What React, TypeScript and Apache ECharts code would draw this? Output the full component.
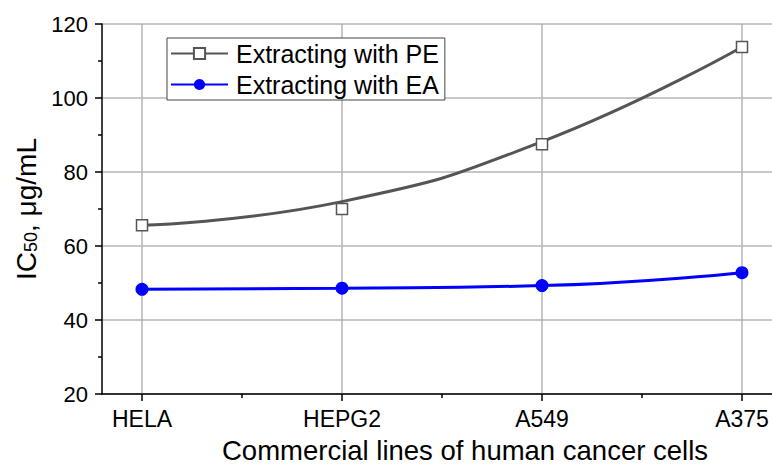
import React, { useEffect, useRef } from "react";
import * as echarts from "echarts";

const categories = ["HELA", "HEPG2", "A549", "A375"];
const pePoints = [65.6, 70.0, 87.5, 113.8];
const peCurve = [65.6, 72.0, 88.2, 113.8];
const eaPoints = [48.3, 48.6, 49.3, 52.8];
const yTicks = [20, 40, 60, 80, 100, 120];

const FONT = "Liberation Sans, Arial, sans-serif";

export default function App() {
  const ref = useRef<HTMLDivElement>(null);
  useEffect(() => {
    if (!ref.current) return;
    const chart = echarts.init(ref.current, null, { renderer: "svg" });
    const pos = categories.map((_, i) => i + 1);
    const minorPos = pos.slice(0, -1).map((p) => p + 0.5);
    const axisCommon = {
      type: "value" as const,
      min: 0.8,
      max: 4.2,
    };
    chart.setOption({
      animation: false,
      backgroundColor: "#fff",
      textStyle: { fontFamily: FONT, color: "#000" },
      grid: {
        left: 102,
        top: 24,
        width: 680,
        height: 370,
        containLabel: false,
        outerBoundsMode: "none",
      },
      legend: {
        data: ["Extracting with PE", "Extracting with EA"],
        orient: "vertical",
        left: 167,
        top: 38,
        itemWidth: 57,
        itemHeight: 14,
        itemGap: 6,
        padding: [3, 6, 3, 3],
        borderColor: "#444",
        borderWidth: 1,
        backgroundColor: "#fff",
        textStyle: { fontSize: 25, color: "#000", fontFamily: FONT, padding: [0, 0, 0, 3] },
      },
      xAxis: [
        {
          ...axisCommon,
          name: "Commercial lines of human cancer cells",
          nameLocation: "middle",
          nameGap: 42,
          nameTextStyle: { fontSize: 27.5, color: "#000", fontFamily: FONT, padding: [0, 0, 0, 46] },
          axisLine: { show: true, onZero: false, lineStyle: { color: "#000", width: 1.5 } },
          axisTick: { show: true, inside: false, length: 7, customValues: pos, lineStyle: { color: "#000", width: 1.5 } },
          axisLabel: {
            customValues: pos,
            fontSize: 23,
            color: "#000",
            margin: 13,
            formatter: (v: number) => categories[Math.round(v) - 1] ?? "",
          },
          splitLine: { show: true, lineStyle: { color: "#b4b4b4", width: 1.5 } },
        },
        {
          ...axisCommon,
          position: "bottom",
          axisLine: { show: false, onZero: false },
          axisTick: { show: true, length: 4, customValues: minorPos, lineStyle: { color: "#000", width: 1.5 } },
          axisLabel: { show: false },
          splitLine: { show: false },
        },
      ],
      yAxis: {
        type: "value",
        min: yTicks[0],
        max: yTicks[yTicks.length - 1],
        interval: 20,
        name: "{a|IC}{s|50}{a|, μg/mL}",
        nameLocation: "middle",
        nameGap: 62,
        nameRotate: 90,
        nameTextStyle: {
          fontFamily: FONT,
          color: "#000",
          rich: {
            a: { fontSize: 28, fontFamily: FONT, color: "#000" },
            s: { fontSize: 18, fontFamily: FONT, color: "#000", verticalAlign: "bottom" },
          },
        },
        axisLine: { show: true, onZero: false, lineStyle: { color: "#000", width: 1.5 } },
        axisTick: { show: true, inside: false, length: 7, lineStyle: { color: "#000", width: 1.5 } },
        minorTick: { show: true, splitNumber: 2, length: 4, lineStyle: { color: "#000", width: 1.5 } },
        axisLabel: { fontSize: 22, color: "#000", margin: 14 },
        splitLine: { show: true, lineStyle: { color: "#b4b4b4", width: 1.5 } },
      },
      series: [
        {
          name: "Extracting with PE",
          type: "line",
          smooth: true,
          data: peCurve.map((v, i) => [pos[i], v]),
          showSymbol: false,
          symbol: "rect",
          symbolSize: 11,
          lineStyle: { color: "#555", width: 3 },
          itemStyle: { color: "#fff", borderColor: "#555", borderWidth: 1.5 },
          z: 2,
        },
        {
          name: "PE measured",
          type: "scatter",
          data: pePoints.map((v, i) => [pos[i], v]),
          symbol: "rect",
          symbolSize: 11,
          itemStyle: { color: "#fff", borderColor: "#555", borderWidth: 1.5, opacity: 1 },
          z: 3,
        },
        {
          name: "Extracting with EA",
          type: "line",
          smooth: true,
          data: eaPoints.map((v, i) => [pos[i], v]),
          symbol: "circle",
          symbolSize: 13,
          showSymbol: true,
          lineStyle: { color: "#0000ff", width: 3 },
          itemStyle: { color: "#0000ff", borderColor: "#0000ff", borderWidth: 0 },
          z: 3,
        },
      ],
    });
    return () => chart.dispose();
  }, []);
  return (
    <div
      ref={ref}
      style={{ position: "absolute", left: 0, top: 0, width: 772, height: 464 }}
    />
  );
}
